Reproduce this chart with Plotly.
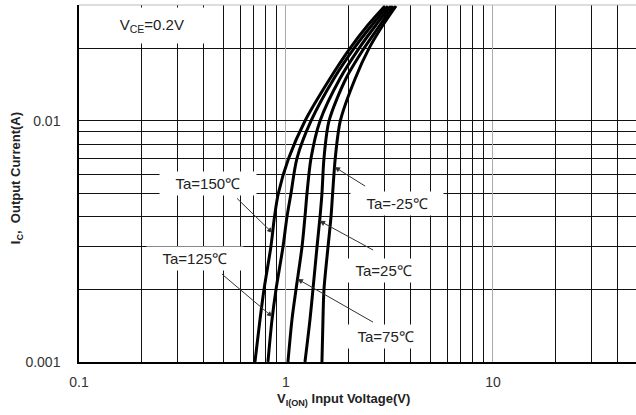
import numpy as np
import plotly.graph_objects as go

# Output current levels (A), shared by every curve
ic = [0.001, 0.0015, 0.002, 0.003, 0.004, 0.005, 0.007, 0.01, 0.015, 0.02, 0.025, 0.03]

# Input voltage V_I(ON) (V) for each temperature
v_150 = [0.708, 0.749, 0.783, 0.845, 0.880, 0.918, 1.030, 1.235, 1.632, 2.038, 2.489, 3.008]
v_125 = [0.818, 0.856, 0.895, 0.967, 1.011, 1.057, 1.130, 1.321, 1.706, 2.131, 2.603, 3.110]
v_75 = [1.022, 1.069, 1.118, 1.195, 1.235, 1.263, 1.321, 1.460, 1.824, 2.253, 2.721, 3.216]
v_25 = [1.235, 1.306, 1.350, 1.412, 1.460, 1.492, 1.526, 1.614, 1.949, 2.381, 2.845, 3.288]
v_m25 = [1.492, 1.509, 1.526, 1.596, 1.650, 1.680, 1.730, 1.830, 2.160, 2.518, 2.942, 3.400]

etiquetas = ["Ta=150℃", "Ta=125℃", "Ta=75℃", "Ta=25℃", "Ta=-25℃"]
curvas = [v_150, v_125, v_75, v_25, v_m25]

# Current where each label's arrow touches its curve
ic_flecha = [0.00343, 0.00154, 0.00221, 0.00385, 0.00644]

x_ticks = [0.1, 1, 10]
x_ticktext = ["0.1", "1", "10"]
x_minor = [0.2, 0.3, 0.4, 0.5, 0.6, 0.7, 0.8, 0.9, 2, 3, 4, 5, 6, 7, 8, 9, 20, 30, 40]
y_ticks = [0.001, 0.01]
y_ticktext = ["0.001", "0.01"]
y_minor = [0.002, 0.003, 0.004, 0.005, 0.006, 0.007, 0.008, 0.009, 0.02]

FUENTE = "Liberation Sans, Arial, sans-serif"

fig = go.Figure()
for nombre, v in zip(etiquetas, curvas):
    fig.add_trace(go.Scatter(
        x=v, y=ic, mode="lines", name=nombre,
        line=dict(color="black", width=3, shape="spline", smoothing=0.8),
        showlegend=False, hoverinfo="skip",
    ))

# label positions (paper) and arrow tail offsets (px) - layout only
pos_texto = [(0.2316, 0.5014), (0.2083, 0.2913), (0.5494, 0.0728), (0.5458, 0.2577), (0.5709, 0.4426)]
offs_flecha = [(-37, -36), (-52, -44), (77, 44), (55, 30), (32, 20)]

for nombre, v, i_f, (px, py), (ax, ay) in zip(etiquetas, curvas, ic_flecha, pos_texto, offs_flecha):
    # punto de la curva a la altura de la flecha (interpolado en log)
    lv = np.interp(np.log10(i_f), np.log10(ic), np.log10(v))
    fig.add_annotation(
        x=lv, y=np.log10(i_f), xref="x", yref="y", text="",
        showarrow=True, ax=ax, ay=ay, arrowhead=2, arrowsize=1.1,
        arrowwidth=1, arrowcolor="#333",
    )
    fig.add_annotation(
        x=px, y=py, xref="paper", yref="paper", xanchor="center", yanchor="middle",
        text="&nbsp;&nbsp;&nbsp;" + nombre + "&nbsp;&nbsp;&nbsp;",
        showarrow=False, bgcolor="white", borderpad=3,
        font=dict(family=FUENTE, size=15, color="#222"),
    )

fig.add_annotation(
    x=0.131, y=0.9412, xref="paper", yref="paper", xanchor="center", yanchor="middle",
    text="&nbsp;&nbsp;&nbsp;&nbsp;V<sub>CE</sub>=0.2V&nbsp;&nbsp;&nbsp;&nbsp;",
    showarrow=False, bgcolor="white", borderpad=8,
    font=dict(family=FUENTE, size=15, color="#222"),
)

# axis titles
fig.add_annotation(
    x=0.474, y=-0.106, xref="paper", yref="paper", xanchor="center", yanchor="middle",
    text="<b>V<sub>I(ON)</sub> Input Voltage(V)</b>", showarrow=False,
    font=dict(family=FUENTE, size=13, color="#222"),
)
fig.add_annotation(
    x=-0.113, y=0.515, xref="paper", yref="paper", xanchor="center", yanchor="middle",
    text="<b>I<sub>C</sub>,  Output Current(A)</b>", showarrow=False, textangle=-90,
    font=dict(family=FUENTE, size=13, color="#222"),
)

# top border
fig.add_shape(type="line", xref="paper", yref="paper", x0=0, x1=1, y0=1, y1=1,
              line=dict(color="#bbb", width=1))

fig.update_layout(
    width=636, height=415,
    margin=dict(l=79, r=0, t=5, b=53),
    plot_bgcolor="white", paper_bgcolor="white",
    font=dict(family=FUENTE, size=14, color="#333"),
    xaxis=dict(
        type="log", range=[-1, 1.691],
        tickvals=x_ticks, ticktext=x_ticktext, ticks="",
        showgrid=True, gridcolor="#aaa", gridwidth=1,
        minor=dict(tickvals=x_minor, showgrid=True, gridcolor="#111", gridwidth=1, ticks=""),
        showline=True, linecolor="black", linewidth=1.5,
        zeroline=False, ticklabelstandoff=6,
    ),
    yaxis=dict(
        type="log", range=[-3, -1.519],
        tickvals=y_ticks, ticktext=y_ticktext, ticks="",
        showgrid=True, gridcolor="#111", gridwidth=1,
        minor=dict(tickvals=y_minor, showgrid=True, gridcolor="#111", gridwidth=1, ticks=""),
        showline=True, linecolor="black", linewidth=1.5,
        zeroline=False, ticklabelstandoff=14,
    ),
)

# quitar el margen por defecto del body para que la figura empiece en (0,0)
fig.write_html("out.html", config={"displayModeBar": False},
               post_script="document.body.style.margin='0';")
